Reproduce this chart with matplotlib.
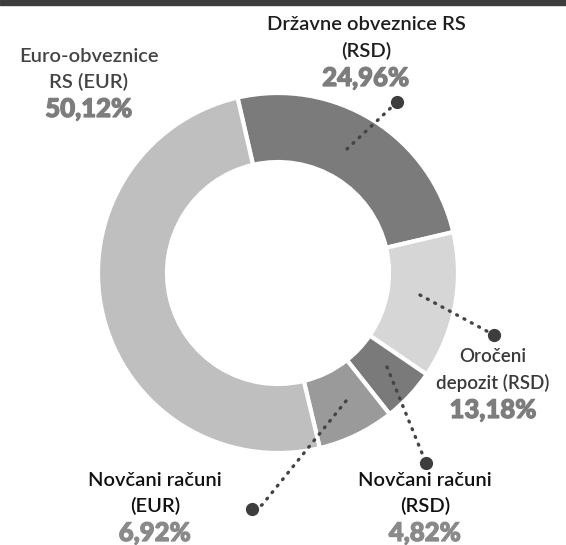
import matplotlib.pyplot as plt
import matplotlib.patheffects as pe

# Data
labels = ["Državne obveznice RS\n(RSD)", "Oročeni\ndepozit (RSD)", "Novčani računi\n(RSD)",
          "Novčani računi\n(EUR)", "Euro-obveznice\nRS (EUR)"]
values = [24.96, 13.18, 4.82, 6.92, 50.12]
pct_labels = ["24,96%", "13,18%", "4,82%", "6,92%", "50,12%"]
colors = ["#7b7b7b", "#d6d6d6", "#7a7a7a", "#9a9a9a", "#bfbfbf"]

W, H = 566, 545


def fy(y):
    # pixel y (from top) -> data y
    return H - y


fig = plt.figure(figsize=(W / 100, H / 100), dpi=100)
ax = fig.add_axes([0, 0, 1, 1])

ax.pie(values, colors=colors, startangle=103, counterclock=False,
       center=(278, fy(273)), radius=180,
       wedgeprops=dict(width=69, edgecolor="white", linewidth=3))

ax.set_xlim(0, W)
ax.set_ylim(0, H)
ax.set_aspect("equal")
ax.axis("off")

# top dark band
ax.axhspan(fy(5), H, color="#3d3d3d", zorder=5)

# label layout: (x, y of first line, text color, pct color, font size)
layout = [
    (366, 25, "#1e1e1e", "#7d7d7d", 14.5),
    (493, 357, "#3a3a3a", "#7d7d7d", 13.5),
    (425, 480, "#111111", "#8a8a8a", 14.5),
    (155, 480, "#111111", "#8a8a8a", 14.5),
    (89, 56, "#444444", "#7d7d7d", 14.5),
]
fam = ["Lato", "DejaVu Sans"]

for lab, pct, (x, y, c, pc, fs) in zip(labels, pct_labels, layout):
    lines = lab.split("\n")
    for i, ln in enumerate(lines):
        ax.text(x, fy(y + i * 26), ln, ha="center", va="center", color=c,
                family=fam, fontsize=fs, weight="semibold")
    ax.text(x, fy(y + (len(lines) - 1) * 26 + 27), pct, ha="center", va="center",
            color=pc, family=fam, fontsize=18.5, weight="black",
            path_effects=[pe.withStroke(linewidth=0.9, foreground=pc)])

# leader lines: (points in pixels)
leaders = [
    [(347, 149), (397, 102)],
    [(420, 295), (494, 335)],
    [(387, 367), (426, 463)],
    [(346, 401), (262, 505), (252, 509)],
]
for pts in leaders:
    xs = [p[0] for p in pts]
    ys = [fy(p[1]) for p in pts]
    ax.plot(xs, ys, linestyle=(0, (0.3, 2.2)), color="#444444", linewidth=2.4,
            dash_capstyle="round", zorder=6)
    ax.plot(xs[-1], ys[-1], "o", color="#3d3d3d", markersize=8.5, zorder=7)

plt.savefig("out.png", dpi=100)
